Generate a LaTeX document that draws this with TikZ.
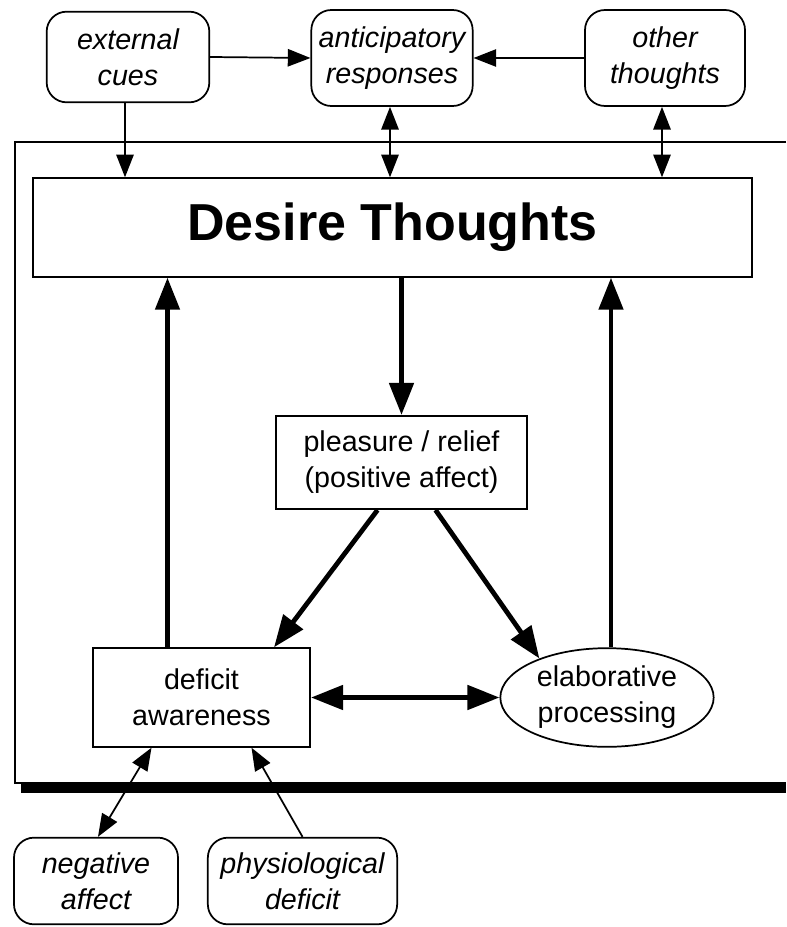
\documentclass[tikz,border=0pt]{standalone}
\usepackage{fontspec}
\setmainfont{Liberation Sans}
\usetikzlibrary{arrows.meta,shapes.geometric,calc}

\tikzset{
  thinhead/.tip={Triangle[length=17pt,width=13pt]},
  thickhead/.tip={Triangle[length=24pt,width=18pt]}
}

\begin{document}
\begin{tikzpicture}[x=0.75pt,y=0.75pt,yscale=-1,xscale=1,
  roundbox/.style={draw,rounded corners=15pt,line width=1.3pt,align=center,inner sep=0pt,font=\itshape\fontsize{21.5}{27}\selectfont},
  plainbox/.style={draw,line width=1.3pt,align=center,inner sep=0pt,font=\fontsize{21.5}{27}\selectfont},
  thinline/.style={line width=1.3pt},
  thickline/.style={line width=3.6pt}]

\useasboundingbox (0,0) rectangle (786,927);

%Shape: Frame
\draw [thinline] (786,142) -- (15,142) -- (15,783) -- (786,783) ;
\draw [line width=7.5pt] (21,788) -- (786,788) ;

%Shape: Rounded Rect
\node [roundbox,minimum width=122pt,minimum height=68pt] (ext) at (128,57) {external\\cues};
%Shape: Rounded Rect
\node [roundbox,minimum width=121pt,minimum height=72pt] (antic) at (392,58) {anticipatory\\responses};
%Shape: Rounded Rect
\node [roundbox,minimum width=120pt,minimum height=72pt] (other) at (665,58) {other\\thoughts};
%Shape: Rectangle
\node [plainbox,minimum width=539pt,minimum height=74pt,font=\bfseries\fontsize{39}{44}\selectfont] (desire) at (392.5,227.5) {Desire Thoughts};
%Shape: Rectangle
\node [plainbox,minimum width=188pt,minimum height=70pt] (pleasure) at (401.5,462.5) {pleasure / relief\\(positive affect)};
%Shape: Rectangle
\node [plainbox,minimum width=163pt,minimum height=74pt] (deficit) at (201.5,697.5) {deficit\\awareness};
%Shape: Ellipse
\node [plainbox,ellipse,minimum width=160pt,minimum height=74pt] (elab) at (607,697.5) {elaborative\\processing};
%Shape: Rounded Rect
\node [roundbox,minimum width=123pt,minimum height=65pt] (neg) at (96,881) {negative\\affect};
%Shape: Rounded Rect
\node [roundbox,minimum width=142pt,minimum height=65pt] (phys) at (302.5,881) {physiological\\deficit};

%Straight Lines
\draw [thinline,-{thinhead}] (ext.east) -- (antic.west) ;
\draw [thinline,-{thinhead}] (other.west) -- (antic.east) ;
\draw [thinline,-{thinhead}] ($(ext.south)+(-3,0)$) -- ($(ext.south |- desire.north)+(-3,0)$) ;
\draw [thinline,{thinhead}-{thinhead}] ($(antic.south)+(-2,0)$) -- ($(antic.south |- desire.north)+(-2,0)$) ;
\draw [thinline,{thinhead}-{thinhead}] ($(other.south)+(-3,0)$) -- ($(other.south |- desire.north)+(-3,0)$) ;

%Straight Lines
\draw [thickline,-{thickhead}] (desire.south -| pleasure.north) -- (pleasure.north) ;
\draw [thickline,-{thickhead}] ($(pleasure.south)+(-24,0)$) -- ($(deficit.north east)+(-37,0)$) ;
\draw [thickline,-{thickhead}] ($(pleasure.south)+(34,0)$) -- (elab.150) ;
\draw [thickline,-{thickhead}] ($(deficit.north)+(-34,0)$) -- ($(deficit.north |- desire.south)+(-34,0)$) ;
\draw [thickline,-{thickhead}] ($(elab.north)+(4,0)$) -- ($(elab.north |- desire.south)+(4,0)$) ;
\draw [thickline,{thickhead}-{thickhead}] (deficit.east) -- (elab.west) ;

%Straight Lines
\draw [thinline,{thinhead}-{thinhead}] ($(neg.north)+(2,0)$) -- ($(deficit.south)+(-50,0)$) ;
\draw [thinline,-{thinhead}] (phys.north) -- ($(deficit.south)+(50,0)$) ;
\end{tikzpicture}
\end{document}
